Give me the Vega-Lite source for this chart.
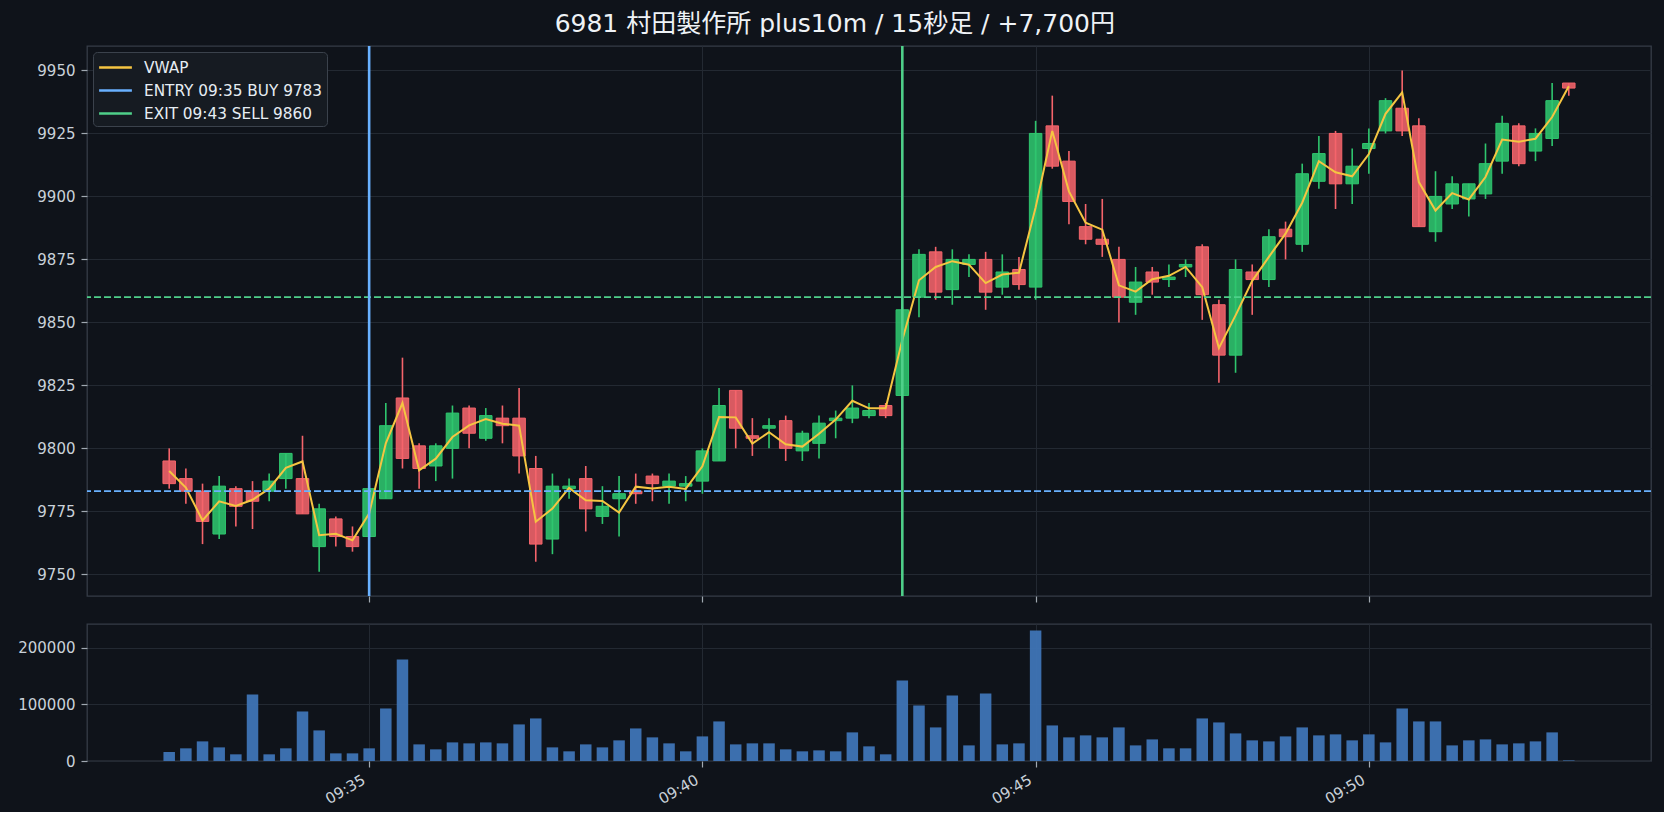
{
  "$schema": "https://vega.github.io/schema/vega-lite/v6.json",
  "padding": {"left": 17, "top": 12, "right": 14, "bottom": 4},
  "background": "#0f131a",
  "title": {"text": "6981 村田製作所 plus10m / 15秒足 / +7,700円", "font": "DejaVu Sans, Noto Sans CJK JP", "fontSize": 25, "fontWeight": "normal", "color": "#eef2f6", "anchor": "middle", "offset": 7},
  "bounds": "flush",
  "spacing": 28,
  "datasets": {
    "bars": [
      {"t": "2024-01-05T09:32:00", "o": 9795, "h": 9800, "l": 9784, "c": 9786, "v": 15900, "vwap": 9791},
      {"t": "2024-01-05T09:32:15", "o": 9788, "h": 9792, "l": 9778, "c": 9783, "v": 22400, "vwap": 9784.4},
      {"t": "2024-01-05T09:32:30", "o": 9783, "h": 9786, "l": 9762, "c": 9771, "v": 34700, "vwap": 9771.4},
      {"t": "2024-01-05T09:32:45", "o": 9766, "h": 9789, "l": 9764, "c": 9785, "v": 24100, "vwap": 9779},
      {"t": "2024-01-05T09:33:00", "o": 9784, "h": 9785, "l": 9769, "c": 9777, "v": 11800, "vwap": 9777.1},
      {"t": "2024-01-05T09:33:15", "o": 9783, "h": 9787, "l": 9768, "c": 9779, "v": 117600, "vwap": 9779.6},
      {"t": "2024-01-05T09:33:30", "o": 9783, "h": 9790, "l": 9779, "c": 9787, "v": 11800, "vwap": 9784},
      {"t": "2024-01-05T09:33:45", "o": 9788, "h": 9798, "l": 9784, "c": 9798, "v": 22400, "vwap": 9792.3},
      {"t": "2024-01-05T09:34:00", "o": 9788, "h": 9805, "l": 9774, "c": 9774, "v": 87600, "vwap": 9794.8},
      {"t": "2024-01-05T09:34:15", "o": 9761, "h": 9778, "l": 9751, "c": 9776, "v": 54100, "vwap": 9765.5},
      {"t": "2024-01-05T09:34:30", "o": 9772, "h": 9773, "l": 9761, "c": 9765, "v": 13500, "vwap": 9766.1},
      {"t": "2024-01-05T09:34:45", "o": 9765, "h": 9769, "l": 9759, "c": 9761, "v": 13500, "vwap": 9763.5},
      {"t": "2024-01-05T09:35:00", "o": 9765, "h": 9785, "l": 9764, "c": 9784, "v": 22400, "vwap": 9774.1},
      {"t": "2024-01-05T09:35:15", "o": 9780, "h": 9818, "l": 9780, "c": 9809, "v": 92900, "vwap": 9802},
      {"t": "2024-01-05T09:35:30", "o": 9820, "h": 9836, "l": 9792, "c": 9796, "v": 179400, "vwap": 9818},
      {"t": "2024-01-05T09:35:45", "o": 9801, "h": 9802, "l": 9784, "c": 9792, "v": 29400, "vwap": 9791.3},
      {"t": "2024-01-05T09:36:00", "o": 9793, "h": 9802, "l": 9787, "c": 9801, "v": 20600, "vwap": 9795.9},
      {"t": "2024-01-05T09:36:15", "o": 9800, "h": 9817, "l": 9788, "c": 9814, "v": 32900, "vwap": 9804.5},
      {"t": "2024-01-05T09:36:30", "o": 9816, "h": 9817, "l": 9800, "c": 9806, "v": 31200, "vwap": 9809.1},
      {"t": "2024-01-05T09:36:45", "o": 9804, "h": 9816, "l": 9803, "c": 9813, "v": 32900, "vwap": 9811.6},
      {"t": "2024-01-05T09:37:00", "o": 9812, "h": 9817, "l": 9802, "c": 9809, "v": 31200, "vwap": 9809.8},
      {"t": "2024-01-05T09:37:15", "o": 9812, "h": 9824, "l": 9790, "c": 9797, "v": 64700, "vwap": 9809},
      {"t": "2024-01-05T09:37:30", "o": 9792, "h": 9797, "l": 9755, "c": 9762, "v": 75300, "vwap": 9770.9},
      {"t": "2024-01-05T09:37:45", "o": 9764, "h": 9790, "l": 9758, "c": 9785, "v": 24100, "vwap": 9776.1},
      {"t": "2024-01-05T09:38:00", "o": 9784, "h": 9788, "l": 9780, "c": 9785, "v": 17100, "vwap": 9784.3},
      {"t": "2024-01-05T09:38:15", "o": 9788, "h": 9793, "l": 9767, "c": 9776, "v": 29400, "vwap": 9779.4},
      {"t": "2024-01-05T09:38:30", "o": 9773, "h": 9785, "l": 9770, "c": 9777, "v": 24100, "vwap": 9779.1},
      {"t": "2024-01-05T09:38:45", "o": 9780, "h": 9789, "l": 9765, "c": 9782, "v": 36500, "vwap": 9774.5},
      {"t": "2024-01-05T09:39:00", "o": 9783, "h": 9790, "l": 9778, "c": 9782, "v": 57600, "vwap": 9784.8},
      {"t": "2024-01-05T09:39:15", "o": 9789, "h": 9790, "l": 9779, "c": 9786, "v": 41800, "vwap": 9784.1},
      {"t": "2024-01-05T09:39:30", "o": 9785, "h": 9790, "l": 9778, "c": 9787, "v": 31200, "vwap": 9784.8},
      {"t": "2024-01-05T09:39:45", "o": 9785, "h": 9789, "l": 9779, "c": 9786, "v": 17100, "vwap": 9783.9},
      {"t": "2024-01-05T09:40:00", "o": 9787, "h": 9800, "l": 9782, "c": 9799, "v": 43500, "vwap": 9792.9},
      {"t": "2024-01-05T09:40:15", "o": 9795, "h": 9824, "l": 9795, "c": 9817, "v": 70000, "vwap": 9812.4},
      {"t": "2024-01-05T09:40:30", "o": 9823, "h": 9823, "l": 9800, "c": 9808, "v": 29400, "vwap": 9812.3},
      {"t": "2024-01-05T09:40:45", "o": 9805, "h": 9812, "l": 9797, "c": 9804, "v": 31200, "vwap": 9801.9},
      {"t": "2024-01-05T09:41:00", "o": 9808, "h": 9812, "l": 9800, "c": 9809, "v": 31200, "vwap": 9806.4},
      {"t": "2024-01-05T09:41:15", "o": 9811, "h": 9813, "l": 9795, "c": 9800, "v": 20600, "vwap": 9801.6},
      {"t": "2024-01-05T09:41:30", "o": 9799, "h": 9807, "l": 9795, "c": 9806, "v": 17100, "vwap": 9800.7},
      {"t": "2024-01-05T09:41:45", "o": 9802, "h": 9813, "l": 9796, "c": 9810, "v": 18800, "vwap": 9805.8},
      {"t": "2024-01-05T09:42:00", "o": 9811, "h": 9815, "l": 9804, "c": 9812, "v": 17100, "vwap": 9811.4},
      {"t": "2024-01-05T09:42:15", "o": 9812, "h": 9825, "l": 9810, "c": 9816, "v": 50600, "vwap": 9818.9},
      {"t": "2024-01-05T09:42:30", "o": 9813, "h": 9818, "l": 9812, "c": 9815, "v": 25900, "vwap": 9815.9},
      {"t": "2024-01-05T09:42:45", "o": 9817, "h": 9818, "l": 9812, "c": 9813, "v": 11800, "vwap": 9815.9},
      {"t": "2024-01-05T09:43:00", "o": 9821, "h": 9856, "l": 9820, "c": 9855, "v": 142400, "vwap": 9843},
      {"t": "2024-01-05T09:43:15", "o": 9860, "h": 9879, "l": 9852, "c": 9877, "v": 98200, "vwap": 9866.7},
      {"t": "2024-01-05T09:43:30", "o": 9878, "h": 9880, "l": 9859, "c": 9862, "v": 59400, "vwap": 9872},
      {"t": "2024-01-05T09:43:45", "o": 9863, "h": 9879, "l": 9857, "c": 9875, "v": 115900, "vwap": 9874.3},
      {"t": "2024-01-05T09:44:00", "o": 9873, "h": 9877, "l": 9868, "c": 9875, "v": 27600, "vwap": 9872.9},
      {"t": "2024-01-05T09:44:15", "o": 9875, "h": 9878, "l": 9855, "c": 9862, "v": 119400, "vwap": 9865.6},
      {"t": "2024-01-05T09:44:30", "o": 9864, "h": 9877, "l": 9861, "c": 9870, "v": 29400, "vwap": 9869},
      {"t": "2024-01-05T09:44:45", "o": 9871, "h": 9876, "l": 9863, "c": 9865, "v": 31200, "vwap": 9869.7},
      {"t": "2024-01-05T09:45:00", "o": 9864, "h": 9930, "l": 9859, "c": 9925, "v": 230600, "vwap": 9895.6},
      {"t": "2024-01-05T09:45:15", "o": 9928, "h": 9940, "l": 9911, "c": 9912, "v": 62900, "vwap": 9926},
      {"t": "2024-01-05T09:45:30", "o": 9914, "h": 9918, "l": 9889, "c": 9898, "v": 41800, "vwap": 9902},
      {"t": "2024-01-05T09:45:45", "o": 9888, "h": 9897, "l": 9881, "c": 9883, "v": 45300, "vwap": 9889.6},
      {"t": "2024-01-05T09:46:00", "o": 9883, "h": 9899, "l": 9876, "c": 9881, "v": 41800, "vwap": 9886.8},
      {"t": "2024-01-05T09:46:15", "o": 9875, "h": 9880, "l": 9850, "c": 9860, "v": 59400, "vwap": 9864.7},
      {"t": "2024-01-05T09:46:30", "o": 9858, "h": 9872, "l": 9853, "c": 9866, "v": 27600, "vwap": 9862.2},
      {"t": "2024-01-05T09:46:45", "o": 9870, "h": 9872, "l": 9861, "c": 9866, "v": 38200, "vwap": 9867.1},
      {"t": "2024-01-05T09:47:00", "o": 9867, "h": 9873, "l": 9864, "c": 9868, "v": 22400, "vwap": 9868.5},
      {"t": "2024-01-05T09:47:15", "o": 9872, "h": 9875, "l": 9868, "c": 9873, "v": 22400, "vwap": 9872},
      {"t": "2024-01-05T09:47:30", "o": 9880, "h": 9881, "l": 9851, "c": 9861, "v": 75300, "vwap": 9864},
      {"t": "2024-01-05T09:47:45", "o": 9857, "h": 9859, "l": 9826, "c": 9837, "v": 68200, "vwap": 9839.8},
      {"t": "2024-01-05T09:48:00", "o": 9837, "h": 9875, "l": 9830, "c": 9871, "v": 48800, "vwap": 9852.8},
      {"t": "2024-01-05T09:48:15", "o": 9870, "h": 9873, "l": 9853, "c": 9867, "v": 36500, "vwap": 9866.5},
      {"t": "2024-01-05T09:48:30", "o": 9867, "h": 9887, "l": 9864, "c": 9884, "v": 34700, "vwap": 9876},
      {"t": "2024-01-05T09:48:45", "o": 9887, "h": 9890, "l": 9875, "c": 9884, "v": 43500, "vwap": 9885.2},
      {"t": "2024-01-05T09:49:00", "o": 9881, "h": 9913, "l": 9878, "c": 9909, "v": 59400, "vwap": 9897.5},
      {"t": "2024-01-05T09:49:15", "o": 9906, "h": 9924, "l": 9903, "c": 9917, "v": 45300, "vwap": 9914},
      {"t": "2024-01-05T09:49:30", "o": 9925, "h": 9926, "l": 9895, "c": 9905, "v": 47100, "vwap": 9909.6},
      {"t": "2024-01-05T09:49:45", "o": 9905, "h": 9919, "l": 9897, "c": 9912, "v": 36500, "vwap": 9908},
      {"t": "2024-01-05T09:50:00", "o": 9919, "h": 9927, "l": 9909, "c": 9921, "v": 47100, "vwap": 9916.8},
      {"t": "2024-01-05T09:50:15", "o": 9926, "h": 9939, "l": 9925, "c": 9938, "v": 32900, "vwap": 9932.8},
      {"t": "2024-01-05T09:50:30", "o": 9935, "h": 9950, "l": 9924, "c": 9926, "v": 92900, "vwap": 9941.3},
      {"t": "2024-01-05T09:50:45", "o": 9928, "h": 9931, "l": 9888, "c": 9888, "v": 70000, "vwap": 9905.7},
      {"t": "2024-01-05T09:51:00", "o": 9886, "h": 9910, "l": 9882, "c": 9900, "v": 70000, "vwap": 9894.4},
      {"t": "2024-01-05T09:51:15", "o": 9897, "h": 9908, "l": 9895, "c": 9905, "v": 27600, "vwap": 9901.3},
      {"t": "2024-01-05T09:51:30", "o": 9899, "h": 9905, "l": 9892, "c": 9905, "v": 36500, "vwap": 9898.8},
      {"t": "2024-01-05T09:51:45", "o": 9901, "h": 9921, "l": 9899, "c": 9913, "v": 38200, "vwap": 9907.7},
      {"t": "2024-01-05T09:52:00", "o": 9914, "h": 9932, "l": 9909, "c": 9929, "v": 29400, "vwap": 9922.6},
      {"t": "2024-01-05T09:52:15", "o": 9928, "h": 9929, "l": 9912, "c": 9913, "v": 31200, "vwap": 9921.7},
      {"t": "2024-01-05T09:52:30", "o": 9918, "h": 9927, "l": 9914, "c": 9925, "v": 34700, "vwap": 9922.9},
      {"t": "2024-01-05T09:52:45", "o": 9923, "h": 9945, "l": 9920, "c": 9938, "v": 50600, "vwap": 9931.5},
      {"t": "2024-01-05T09:53:00", "o": 9945, "h": 9945, "l": 9940, "c": 9943, "v": 1000, "vwap": 9943.7}
    ],
    "trades": [
      {"side": "ENTRY", "t": "2024-01-05T09:35:00", "price": 9783, "label": "ENTRY 09:35 BUY 9783"},
      {"side": "EXIT", "t": "2024-01-05T09:43:00", "price": 9860, "label": "EXIT 09:43 SELL 9860"}
    ]
  },
  "vconcat": [
    {
      "width": 1564,
      "height": 550,
      "layer": [
        {
          "data": {"name": "bars"},
          "mark": {"type": "rule", "strokeWidth": 1.6},
          "encoding": {
            "x": {"field": "t", "type": "temporal", "title": null, "scale": {"domain": [{"year": 2024, "month": 1, "date": 5, "hours": 9, "minutes": 30, "seconds": 50, "milliseconds": 500}, {"year": 2024, "month": 1, "date": 5, "hours": 9, "minutes": 54, "seconds": 9, "milliseconds": 500}]}, "axis": {"values": [{"year": 2024, "month": 1, "date": 5, "hours": 9, "minutes": 35}, {"year": 2024, "month": 1, "date": 5, "hours": 9, "minutes": 40}, {"year": 2024, "month": 1, "date": 5, "hours": 9, "minutes": 45}, {"year": 2024, "month": 1, "date": 5, "hours": 9, "minutes": 50}], "labels": false, "grid": true}},
            "y": {"field": "l", "type": "quantitative", "title": null, "scale": {"domain": [9741.4, 9959.7], "nice": false, "zero": false}, "axis": {"values": [9750, 9775, 9800, 9825, 9850, 9875, 9900, 9925, 9950], "format": "d", "grid": true}},
            "y2": {"field": "h"},
            "color": {"condition": {"test": "datum.c >= datum.o", "value": "#2fc66e"}, "value": "#f5646b"}
          }
        },
        {
          "data": {"name": "bars"},
          "mark": {"type": "bar", "size": 12.5, "strokeWidth": 1, "fillOpacity": 0.88},
          "encoding": {
            "x": {"field": "t", "type": "temporal", "title": null},
            "y": {"field": "o", "type": "quantitative", "title": null},
            "y2": {"field": "c"},
            "fill": {"condition": {"test": "datum.c >= datum.o", "value": "#2fc66e"}, "value": "#f5646b"},
            "stroke": {"condition": {"test": "datum.c >= datum.o", "value": "#2fc66e"}, "value": "#f5646b"}
          }
        },
        {
          "data": {"name": "bars"},
          "mark": {"type": "line", "strokeWidth": 2},
          "encoding": {
            "x": {"field": "t", "type": "temporal", "title": null},
            "y": {"field": "vwap", "type": "quantitative", "title": null},
            "color": {
              "datum": "VWAP",
              "type": "nominal",
              "title": null,
              "scale": {"domain": ["VWAP", "ENTRY 09:35 BUY 9783", "EXIT 09:43 SELL 9860"], "range": ["#f5c542", "#69b1ff", "#4fd08a"]},
              "legend": {"orient": "top-left", "offset": 6, "title": null, "fillColor": "#161b22", "strokeColor": "#3b424c", "cornerRadius": 4, "padding": 4, "labelFont": "DejaVu Sans", "labelFontSize": 15.3, "labelColor": "#e6edf3", "labelLimit": 0, "symbolType": "M-1.6,0H1.6", "symbolSize": 420, "symbolStrokeWidth": 2.5, "symbolOffset": 7, "labelOffset": 17, "rowPadding": 3}
            }
          }
        },
        {
          "data": {"name": "trades"},
          "transform": [{"filter": "datum.side == 'ENTRY'"}],
          "mark": {"type": "rule", "color": "#69b1ff", "strokeWidth": 1.7, "strokeDash": [7, 3]},
          "encoding": {"y": {"field": "price", "type": "quantitative", "title": null}}
        },
        {
          "data": {"name": "trades"},
          "transform": [{"filter": "datum.side == 'EXIT'"}],
          "mark": {"type": "rule", "color": "#4fd08a", "strokeWidth": 1.7, "strokeDash": [7, 3]},
          "encoding": {"y": {"field": "price", "type": "quantitative", "title": null}}
        },
        {
          "data": {"name": "trades"},
          "mark": {"type": "rule", "strokeWidth": 2.6},
          "encoding": {
            "x": {"field": "t", "type": "temporal", "title": null},
            "color": {"field": "label", "type": "nominal", "title": null}
          }
        }
      ]
    },
    {
      "width": 1564,
      "height": 137,
      "data": {"name": "bars"},
      "mark": {"type": "bar", "size": 11.5, "color": "#3f74b6", "opacity": 0.95},
      "encoding": {
        "x": {"field": "t", "type": "temporal", "title": null, "scale": {"domain": [{"year": 2024, "month": 1, "date": 5, "hours": 9, "minutes": 30, "seconds": 50, "milliseconds": 500}, {"year": 2024, "month": 1, "date": 5, "hours": 9, "minutes": 54, "seconds": 9, "milliseconds": 500}]}, "axis": {"values": [{"year": 2024, "month": 1, "date": 5, "hours": 9, "minutes": 35}, {"year": 2024, "month": 1, "date": 5, "hours": 9, "minutes": 40}, {"year": 2024, "month": 1, "date": 5, "hours": 9, "minutes": 45}, {"year": 2024, "month": 1, "date": 5, "hours": 9, "minutes": 50}], "format": "%H:%M", "labelAngle": -30, "labelAlign": "right", "labelBaseline": "top", "labelOffset": -9, "labelPadding": 5, "grid": true}},
        "y": {"field": "v", "type": "quantitative", "title": null, "scale": {"domain": [0, 242300], "nice": false}, "axis": {"values": [0, 100000, 200000], "format": "d", "grid": true}}
      }
    }
  ],
  "resolve": {"scale": {"x": "independent", "color": "independent"}, "legend": {"color": "independent"}},
  "config": {
    "background": "#0f131a",
    "font": "DejaVu Sans",
    "view": {"stroke": "#363d47", "strokeWidth": 1.3, "fill": "#0f131a"},
    "axis": {"domain": false, "labelFont": "DejaVu Sans", "labelFontSize": 15, "labelColor": "#c9d1d9", "tickColor": "#a0a8b1", "tickSize": 6, "tickWidth": 1.2, "labelPadding": 6, "gridColor": "#232932", "gridWidth": 1}
  }
}
